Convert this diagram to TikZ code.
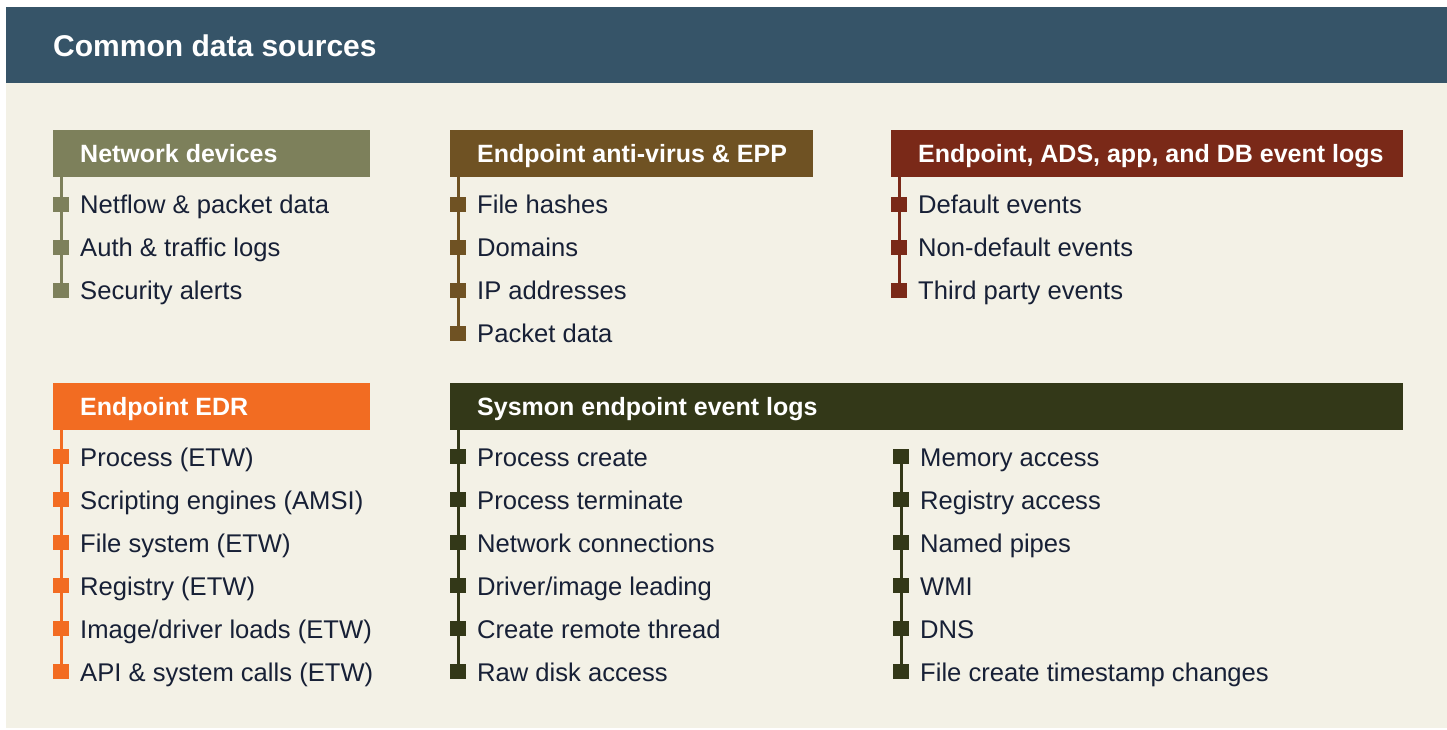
\documentclass[tikz,border=0pt]{standalone}
\usepackage{fontspec}
\setmainfont{Liberation Sans}
\definecolor{hdr}{RGB}{54,84,104}
\definecolor{bg}{RGB}{243,241,230}
\definecolor{netc}{RGB}{125,128,91}
\definecolor{avc}{RGB}{111,82,35}
\definecolor{logc}{RGB}{122,41,24}
\definecolor{edrc}{RGB}{242,108,34}
\definecolor{sysc}{RGB}{51,56,24}
\definecolor{txt}{RGB}{23,32,54}
\tikzset{
  bar/.style={fill=#1, anchor=north west, minimum height=47pt, inner sep=0pt},
  bartext/.style={anchor=west, inner sep=0pt, text height=18pt, text depth=0pt, text=white,
    font=\fontsize{25}{30}\selectfont\bfseries},
  item/.style={anchor=base west, inner sep=0pt, text=txt, font=\fontsize{25.6}{30}\selectfont},
  bul/.style={fill=#1, minimum width=16pt, minimum height=15pt, inner sep=0pt},
  spine/.style={draw=#1, line width=3pt},
}
\begin{document}
\begin{tikzpicture}[x=1pt,y=-1pt]
\useasboundingbox (0,0) rectangle (1447,729);
\fill[bg] (6,7) rectangle (1447,728);
\fill[hdr] (6,7) rectangle (1447,83);
\node[anchor=base west, inner sep=0pt, text=white, font=\fontsize{30}{34}\selectfont\bfseries] (title) at (53,56) {Common data sources};

% Network devices
\node[bar=netc, minimum width=317pt] (net) at (53,130) {};
\node[bartext] (netH) at ([xshift=27pt]net.west) {Network devices};
\foreach \t [count=\i] in {Netflow \& packet data, Auth \& traffic logs, Security alerts}{
  \node[bul=netc] (net\i) at (61,{204+43*(\i-1)}) {};
  \node[item] (netT\i) at (80,{213.5+43*(\i-1)}) {\t};
}
\draw[spine=netc] (net3 |- net.south) -- (net3.center);

% Endpoint anti-virus & EPP
\node[bar=avc, minimum width=363pt] (av) at (450,130) {};
\node[bartext] (avH) at ([xshift=27pt]av.west) {Endpoint anti-virus \& EPP};
\foreach \t [count=\i] in {File hashes, Domains, IP addresses, Packet data}{
  \node[bul=avc] (av\i) at (458,{204+43*(\i-1)}) {};
  \node[item] (avT\i) at (477,{213.5+43*(\i-1)}) {\t};
}
\draw[spine=avc] (av4 |- av.south) -- (av4.center);

% Endpoint, ADS, app, and DB event logs
\node[bar=logc, minimum width=512pt] (log) at (891,130) {};
\node[bartext] (logH) at ([xshift=27pt]log.west) {Endpoint, ADS, app, and DB event logs};
\foreach \t [count=\i] in {Default events, Non-default events, Third party events}{
  \node[bul=logc] (log\i) at (899,{204+43*(\i-1)}) {};
  \node[item] (logT\i) at (918,{213.5+43*(\i-1)}) {\t};
}
\draw[spine=logc] (log3 |- log.south) -- (log3.center);

% Endpoint EDR
\node[bar=edrc, minimum width=317pt] (edr) at (53,383) {};
\node[bartext] (edrH) at ([xshift=27pt]edr.west) {Endpoint EDR};
\foreach \t [count=\i] in {Process (ETW), Scripting engines (AMSI), File system (ETW), Registry (ETW), Image/driver loads (ETW), API \& system calls (ETW)}{
  \node[bul=edrc] (edr\i) at (61,{456.5+43*(\i-1)}) {};
  \node[item] (edrT\i) at (80,{466+43*(\i-1)}) {\t};
}
\draw[spine=edrc] (edr6 |- edr.south) -- (edr6.center);

% Sysmon endpoint event logs
\node[bar=sysc, minimum width=953pt] (sys) at (450,383) {};
\node[bartext] (sysH) at ([xshift=27pt]sys.west) {Sysmon endpoint event logs};
\foreach \t [count=\i] in {Process create, Process terminate, Network connections, Driver/image leading, Create remote thread, Raw disk access}{
  \node[bul=sysc] (sysL\i) at (458,{456.5+43*(\i-1)}) {};
  \node[item] (sysLT\i) at (477,{466+43*(\i-1)}) {\t};
}
\draw[spine=sysc] (sysL6 |- sys.south) -- (sysL6.center);
\foreach \t [count=\i] in {Memory access, Registry access, Named pipes, WMI, DNS, File create timestamp changes}{
  \node[bul=sysc] (sysR\i) at (901,{456.5+43*(\i-1)}) {};
  \node[item] (sysRT\i) at (920,{466+43*(\i-1)}) {\t};
}
\draw[spine=sysc] (sysR1.center) -- (sysR6.center);
\end{tikzpicture}
\end{document}
